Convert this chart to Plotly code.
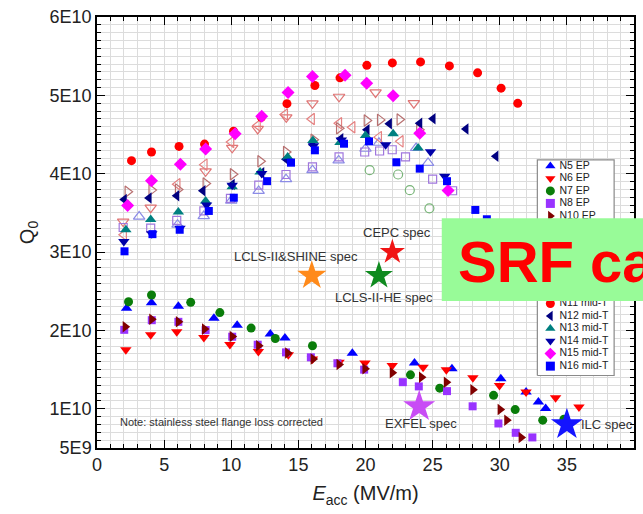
import plotly.graph_objects as go

FONT = "Liberation Sans, Arial, Helvetica, sans-serif"

# ---------------- data: E_acc (MV/m), Q0 in units of 1E10 ----------------
N5_EP_E = [2.2, 4.06, 6.06, 8.71, 10.44, 12.91, 14.0, 19.02, 23.65, 26.44, 30.08, 31.96, 32.88, 33.42]
N5_EP_Q = [2.283, 2.354, 2.309, 2.157, 2.068, 1.954, 1.903, 1.708, 1.586, 1.51, 1.383, 1.214, 1.087, 1.003]

N6_EP_E = [2.15, 4.0, 5.94, 7.96, 9.9, 12.02, 14.25, 16.05, 18.03, 19.96, 21.99, 24.29, 26.02, 28.0, 29.98, 31.96, 34.16, 35.9]
N6_EP_Q = [1.755, 1.945, 1.983, 1.91, 1.822, 1.733, 1.691, 1.637, 1.594, 1.586, 1.552, 1.53, 1.497, 1.396, 1.298, 1.214, 1.142, 1.023]

N7_EP_E = [2.35, 4.06, 6.98, 9.15, 11.48, 13.28, 16.05, 23.35, 25.53, 29.54, 31.15, 33.2, 34.78]
N7_EP_Q = [2.367, 2.452, 2.359, 2.228, 2.03, 1.898, 1.805, 1.434, 1.264, 1.172, 0.99, 0.855, 0.868]

N8_EP_E = [2.03, 4.08, 6.06, 8.09, 10.07, 11.97, 14.08, 15.93, 17.91, 19.9, 22.78, 23.97, 26.07, 27.98, 29.9, 31.19, 32.43]
N8_EP_Q = [2.008, 2.131, 2.11, 2.004, 1.92, 1.818, 1.72, 1.657, 1.581, 1.5, 1.34, 1.286, 1.226, 1.032, 0.813, 0.694, 0.635]

N10_EP_E = [2.1, 4.08, 6.06, 8.01, 10.07, 12.04, 14.2, 16.1, 18.03, 19.96, 21.99, 24.17, 26.02, 28.0, 30.03, 30.52, 31.59]
N10_EP_Q = [2.046, 2.144, 2.11, 2.017, 1.923, 1.805, 1.713, 1.637, 1.565, 1.51, 1.46, 1.404, 1.34, 1.244, 0.99, 0.855, 0.635]

N5_MT_E = [3.14, 6.0, 7.95, 10.0, 12.04, 14.08, 16.05, 18.0, 20.0, 21.0, 23.77, 24.66]
N5_MT_Q = [3.453, 3.35, 3.46, 3.656, 3.78, 3.931, 4.045, 4.17, 4.319, 4.395, 4.328, 4.138]

N6_MT_E = [1.95, 4.0, 8.09, 10.07, 11.97, 14.1, 16.05, 18.03, 20.75, 23.6]
N6_MT_Q = [3.39, 3.567, 4.03, 4.33, 4.572, 4.72, 4.898, 4.982, 5.037, 4.9]

N7_MT_E = [20.31, 22.43, 23.3, 24.76]
N7_MT_Q = [4.045, 3.99, 3.79, 3.558]

N8_MT_E = [1.95, 4.0, 5.94, 7.96, 9.94, 12.05, 14.08, 16.05, 18.03, 19.94, 21.05, 21.99, 22.98, 25.0, 26.49]
N8_MT_Q = [3.314, 3.305, 3.406, 3.525, 3.685, 3.855, 3.99, 4.087, 4.214, 4.277, 4.29, 4.306, 4.214, 3.931, 3.783]

N9_MT_E = [2.0, 5.99, 8.01, 10.0, 11.97, 14.0, 16.0, 18.03, 19.02, 21.0, 22.61]
N9_MT_Q = [3.22, 3.867, 4.116, 4.404, 4.615, 4.755, 4.699, 4.644, 4.594, 4.467, 4.413]

N10_MT_E = [2.28, 4.06, 6.03, 8.09, 10.12, 12.17, 14.08, 16.13, 18.03, 20.09, 21.08, 22.54, 24.0]
N10_MT_Q = [3.77, 3.791, 3.8, 3.875, 3.994, 4.159, 4.277, 4.433, 4.581, 4.679, 4.687, 4.692, 4.56]

N11_MT_E = [2.57, 4.06, 6.11, 8.01, 10.17, 12.24, 14.15, 16.23, 18.1, 20.1, 22.0, 24.1, 26.25, 28.35, 30.1, 31.34]
N11_MT_Q = [4.167, 4.277, 4.349, 4.378, 4.543, 4.72, 4.894, 5.126, 5.224, 5.383, 5.414, 5.427, 5.376, 5.287, 5.092, 4.898]

N12_MT_E = [2.03, 3.88, 5.94, 7.89, 10.07, 12.27, 14.08, 16.08, 18.16, 20.11, 21.78, 24.04, 25.03, 27.48, 29.71]
N12_MT_Q = [3.672, 3.69, 3.719, 3.783, 3.863, 4.011, 4.185, 4.37, 4.446, 4.562, 4.638, 4.644, 4.702, 4.572, 4.222]

N13_MT_E = [2.15, 4.0, 6.06, 8.09, 10.07, 12.15, 14.2, 16.08, 18.1, 20.0, 22.06, 23.92]
N13_MT_Q = [3.285, 3.415, 3.513, 3.652, 3.833, 4.023, 4.214, 4.425, 4.4, 4.487, 4.509, 4.328]

N14_MT_E = [2.0, 4.08, 6.18, 8.16, 10.07, 12.27, 14.32, 16.13, 18.2, 21.5, 24.84, 25.9]
N14_MT_Q = [3.136, 3.234, 3.305, 3.6, 3.854, 4.002, 4.159, 4.357, 4.43, 4.37, 4.282, 3.967]

N15_MT_E = [2.28, 4.06, 6.21, 8.09, 10.29, 12.27, 14.23, 16.05, 18.48, 20.09, 22.06, 24.04, 26.15]
N15_MT_Q = [3.593, 3.909, 4.121, 4.315, 4.509, 4.733, 5.037, 5.24, 5.257, 5.153, 4.996, 4.518, 3.786]

N16_MT_E = [2.05, 4.13, 6.16, 8.33, 10.19, 12.67, 14.45, 16.23, 18.4, 20.26, 22.3, 24.04, 26.07, 28.18, 29.04]
N16_MT_Q = [3.01, 3.229, 3.285, 3.525, 3.694, 3.905, 4.141, 4.299, 4.383, 4.413, 4.146, 4.065, 3.905, 3.538, 3.419]

# specification points
SPEC_NAMES = ["CEPC spec", "LCLS-II-HE spec", "LCLS-II&SHINE spec", "EXFEL spec", "ILC spec"]
SPEC_E = [22, 21, 16, 24, 35]
SPEC_Q = [3.0, 2.7, 2.7, 1.03, 0.8]

Y_TICKVALS = [0.5, 1, 2, 3, 4, 5, 6]
Y_TICKTEXT = ["5E9", "1E10", "2E10", "3E10", "4E10", "5E10", "6E10"]

# ---------------- styles ----------------
SERIES = [
    ("N5 EP", N5_EP_E, N5_EP_Q, "triangle-up", "#0000FF", 10),
    ("N6 EP", N6_EP_E, N6_EP_Q, "triangle-down", "#FF0000", 10),
    ("N7 EP", N7_EP_E, N7_EP_Q, "circle", "#0A7D0A", 9),
    ("N8 EP", N8_EP_E, N8_EP_Q, "square", "#9933FF", 8),
    ("N10 EP", N10_EP_E, N10_EP_Q, "triangle-right", "#800000", 10),
    ("N5 mid-T", N5_MT_E, N5_MT_Q, "triangle-up-open", "#8C8CE6", 10),
    ("N6 mid-T", N6_MT_E, N6_MT_Q, "triangle-down-open", "#E07575", 10),
    ("N7 mid-T", N7_MT_E, N7_MT_Q, "circle-open", "#78B478", 9),
    ("N8 mid-T", N8_MT_E, N8_MT_Q, "square-open", "#A077DD", 8),
    ("N9 mid-T", N9_MT_E, N9_MT_Q, "triangle-left-open", "#E58080", 10),
    ("N10 mid-T", N10_MT_E, N10_MT_Q, "triangle-right-open", "#B87070", 10),
    ("N11 mid-T", N11_MT_E, N11_MT_Q, "circle", "#FF0000", 9),
    ("N12 mid-T", N12_MT_E, N12_MT_Q, "triangle-left", "#000080", 10),
    ("N13 mid-T", N13_MT_E, N13_MT_Q, "triangle-up", "#008080", 10),
    ("N14 mid-T", N14_MT_E, N14_MT_Q, "triangle-down", "#0000A8", 10),
    ("N15 mid-T", N15_MT_E, N15_MT_Q, "diamond", "#FF00FF", 10),
    ("N16 mid-T", N16_MT_E, N16_MT_Q, "square", "#0000FF", 8),
]
SPEC_COLORS = ["#F01414", "#0F8A1F", "#FF8A1A", "#C84CF5", "#1414FF"]
SPEC_SIZES = [19, 21, 22, 24, 24]

fig = go.Figure()

for name, ex, qy, sym, col, sz in SERIES:
    is_open = sym.endswith("-open")
    fig.add_trace(go.Scatter(
        x=ex, y=qy, mode="markers", name=name, showlegend=False,
        marker=dict(symbol=sym, size=sz, color=col,
                    line=dict(width=1.2 if is_open else 0, color=col))))

for i, nm in enumerate(SPEC_NAMES):
    fig.add_trace(go.Scatter(
        x=[SPEC_E[i]], y=[SPEC_Q[i]], mode="markers", name=nm, showlegend=False,
        marker=dict(symbol="star", size=SPEC_SIZES[i], color=SPEC_COLORS[i], line=dict(width=0))))

# ---------------- compact legend drawn inside the plot area ----------------
# rows 5..10 sit behind the overlay box in the original, so only visible rows are drawn
VISIBLE_ROWS = [0, 1, 2, 3, 4, 11, 12, 13, 14, 15, 16]
LEG_NAMES = [SERIES[i][0] for i in VISIBLE_ROWS]
LEG_SYMS = [SERIES[i][3] for i in VISIBLE_ROWS]
LEG_COLS = [SERIES[i][4] for i in VISIBLE_ROWS]
LEG_TOP, LEG_STEP = 4.10, 0.1597          # row spacing in axis units
LEG_SYM_X, LEG_TXT_X = 33.77, 34.45
LEG_X0, LEG_X1, LEG_Y0, LEG_Y1 = 32.80, 38.52, 1.425, 4.176
leg_y = [LEG_TOP - LEG_STEP * r for r in VISIBLE_ROWS]

# white framed panel as a filled trace (always above the gridlines)
fig.add_trace(go.Scatter(
    x=[LEG_X0, LEG_X1, LEG_X1, LEG_X0, LEG_X0], y=[LEG_Y0, LEG_Y0, LEG_Y1, LEG_Y1, LEG_Y0],
    mode="lines", fill="toself", fillcolor="white", line=dict(color="#8a8a8a", width=1.2),
    showlegend=False, hoverinfo="skip"))
fig.add_trace(go.Scatter(
    x=[LEG_SYM_X] * len(leg_y), y=leg_y, mode="markers", showlegend=False, hoverinfo="skip",
    marker=dict(symbol=LEG_SYMS, color=LEG_COLS, size=9, line=dict(width=0))))
fig.add_trace(go.Scatter(
    x=[LEG_TXT_X] * len(leg_y), y=leg_y, mode="text", text=LEG_NAMES, textposition="middle right",
    showlegend=False, hoverinfo="skip", textfont=dict(family=FONT, size=10.5, color="#222222")))

# spec labels (offset from the star positions)
LABEL_SHIFTS = [(5, 20, "center"), (5, -22, "center"), (-16, 19, "center"), (2, -17, "center"), (12, 0, "left")]
for i, nm in enumerate(SPEC_NAMES):
    dx, dy, anc = LABEL_SHIFTS[i]
    fig.add_annotation(x=SPEC_E[i], y=SPEC_Q[i], xref="x", yref="y", text=nm, showarrow=False,
                       xshift=dx, yshift=dy, xanchor=anc, yanchor="middle",
                       font=dict(family=FONT, size=13, color="#333333"))

fig.add_annotation(x=0.04, y=0.06, xref="paper", yref="paper", text="Note: stainless steel flange loss corrected",
                   showarrow=False, xanchor="left", yanchor="middle",
                   font=dict(family=FONT, size=11, color="#333333"))

# ---------------- overlay box ----------------
fig.add_shape(type="rect", xref="paper", yref="paper", x0=0.642, x1=1.3, y0=0.341, y1=0.533,
              fillcolor="#98FB98", line=dict(width=0), layer="above")
fig.add_annotation(x=0.668, y=0.433, xref="paper", yref="paper", text="<b>SRF ca</b>", showarrow=False,
                   xanchor="left", yanchor="middle", font=dict(family=FONT, size=58, color="#FF0000"))

axis_common = dict(showline=True, linecolor="black", linewidth=1.5, mirror="allticks",
                   ticks="inside", ticklen=8, tickwidth=1.3, tickcolor="black",
                   showgrid=True, gridcolor="#dcdcdc", gridwidth=1, zeroline=False,
                   tickfont=dict(family=FONT, size=18, color="#222222"))

fig.update_layout(
    width=643, height=514,
    margin=dict(l=97, r=7, t=14, b=66),
    paper_bgcolor="white", plot_bgcolor="white",
    showlegend=False,
    xaxis=dict(range=[0, 40], tickmode="linear", tick0=0, dtick=5,
               minor=dict(dtick=1, ticks="inside", ticklen=4, tickcolor="black", showgrid=True, gridcolor="#dcdcdc"),
               title=dict(text="<i>E</i><sub>acc</sub> (MV/m)", font=dict(family=FONT, size=20, color="#222222"), standoff=12),
               **axis_common),
    yaxis=dict(range=[0.5, 6.0], tickmode="array", tickvals=Y_TICKVALS, ticktext=Y_TICKTEXT,
               minor=dict(tickmode="array", tickvals=[v / 10 for v in range(5, 61)], ticks="inside", ticklen=4,
                          tickcolor="black", showgrid=True, gridcolor="#dcdcdc"),
               title=dict(text="Q<sub>0</sub>", font=dict(family=FONT, size=20, color="#222222"), standoff=10),
               **axis_common),
)

fig.write_html("out.html")
